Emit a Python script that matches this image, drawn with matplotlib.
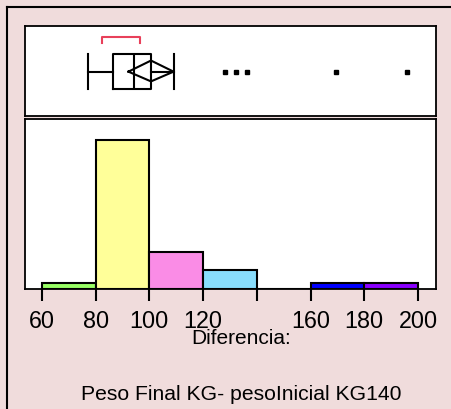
import matplotlib.pyplot as plt
from matplotlib.lines import Line2D

plt.rcParams['font.family'] = ['Liberation Sans', 'DejaVu Sans']

# histogram of the weight difference (kg)
bin_edges = [60, 80, 100, 120, 140, 160, 180, 200]
counts = [1, 24, 6, 3, 0, 1, 1]
bar_colors = ['#99ff66', '#ffff99', '#fa8ce6', '#88ddfc', '#ffffff', '#0000ff', '#8a00ff']
tick_values = [60, 80, 100, 120, 140, 160, 180, 200]
tick_labels = ['60', '80', '100', '120', '', '160', '180', '200']

# outlier box plot summary
whisker_lo, q1, median, q3, whisker_hi = 77.0, 86.3, 94.2, 100.7, 109.0
mean, ci_lo, ci_hi = 100.6, 92.2, 109.0
short_half = (82.2, 96.5)
outliers = [128.2, 132.3, 136.3, 169.4, 196.0]

bg = '#f0dcdc'
W, H = 451, 409
fig = plt.figure(figsize=(W / 100, H / 100), dpi=100, facecolor=bg)

def px_axes(left, top, right, bottom):
    return fig.add_axes([left / W, 1 - bottom / H, (right - left) / W, (bottom - top) / H])

xmin, xmax = 53.7, 206.7

# box plot panel
axb = px_axes(25, 26, 436, 115.5)
axb.set_xlim(xmin, xmax)
axb.set_ylim(0, 1)
stats = [dict(med=median, q1=q1, q3=q3, whislo=whisker_lo, whishi=whisker_hi, fliers=outliers)]
axb.bxp(stats, positions=[0.49], widths=0.386, capwidths=0.386, orientation='horizontal',
        boxprops=dict(color='black', lw=1.5), whiskerprops=dict(color='black', lw=1.5),
        capprops=dict(color='black', lw=1.5), medianprops=dict(color='black', lw=1.5),
        flierprops=dict(marker='s', markersize=2.6, markerfacecolor='black',
                        markeredgecolor='black'),
        manage_ticks=False)
# means diamond
axb.plot([ci_lo, mean, ci_hi, mean, ci_lo], [0.49, 0.614, 0.49, 0.381, 0.49],
         color='black', lw=1.5)
# shortest half bracket
axb.plot([short_half[0], short_half[0], short_half[1], short_half[1]],
         [0.81, 0.874, 0.874, 0.81], color='#e8405a', lw=1.5)
axb.set_xticks([])
axb.set_yticks([])
for s in axb.spines.values():
    s.set_linewidth(1.3)

# histogram panel
axh = px_axes(25, 118.8, 436, 289)
axh.set_facecolor('white')
axh.bar(bin_edges[:-1], counts, width=20, align='edge', color=bar_colors,
        edgecolor='black', linewidth=1.5)
axh.set_xlim(xmin, xmax)
axh.set_ylim(0, 27.5)
axh.set_yticks([])
axh.set_xticks(tick_values)
axh.set_xticklabels(tick_labels, fontsize=16.8)
axh.tick_params(axis='x', length=8.6, width=1.5, pad=6.5, direction='out')
for s in axh.spines.values():
    s.set_linewidth(1.3)

fig.text(241 / W, 1 - 339 / H, 'Diferencia:', ha='center', va='center', fontsize=15)
fig.text(241 / W, 1 - 395 / H, 'Peso Final KG- pesoInicial KG140', ha='center',
         va='center', fontsize=15.2)

# outer frame lines
fig.add_artist(Line2D([7 / W, 7 / W], [0, 1 - 7 / H], color='black', lw=1.5))
fig.add_artist(Line2D([7 / W, 1], [1 - 7 / H, 1 - 7 / H], color='black', lw=1.5))

fig.savefig('out.png', dpi=100, facecolor=bg)
